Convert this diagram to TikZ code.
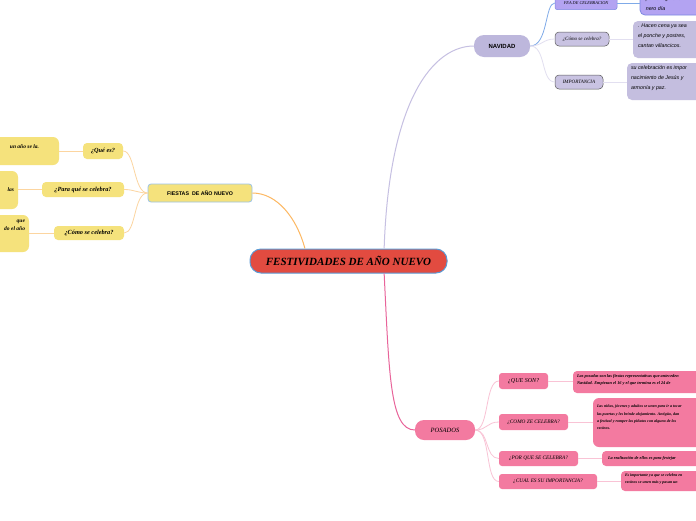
\documentclass[tikz,border=0pt]{standalone}
\usepackage{fontspec}
\setmainfont{Liberation Serif}
\newfontfamily\sansf{Liberation Sans}
\usetikzlibrary{calc}
\definecolor{mainred}{HTML}{E24B40}
\definecolor{mainblue}{HTML}{5B9BD5}
\definecolor{yel}{HTML}{F5E27C}
\definecolor{yelline}{HTML}{FCD5A0}
\definecolor{orangeline}{HTML}{FDB862}
\definecolor{lightblue}{HTML}{9DC3E6}
\definecolor{lav}{HTML}{BDB7DC}
\definecolor{lavchild}{HTML}{C9C3E2}
\definecolor{lavleaf}{HTML}{C4BEDF}
\definecolor{lavline}{HTML}{C6C0E2}
\definecolor{lavlight}{HTML}{E2DFF0}
\definecolor{purp}{HTML}{B3A3F2}
\definecolor{purpborder}{HTML}{7D88E2}
\definecolor{blueline}{HTML}{7FAAE8}
\definecolor{pink}{HTML}{F37AA0}
\definecolor{pinkline}{HTML}{E8649A}
\definecolor{pinklight}{HTML}{F9C3D5}
\tikzset{
  box/.style={rectangle, rounded corners=4pt, inner sep=0pt, text=black},
  ybox/.style={box, fill=yel},
  lbox/.style={box, fill=lavchild, draw=black!65, line width=0.5pt},
  lleaf/.style={box, fill=lavleaf, rounded corners=5pt},
  pbox/.style={box, fill=pink, rounded corners=3pt},
  txt/.style={inner sep=0pt, anchor=north west, align=left, text=black},
  ylink/.style={draw=yelline, line width=0.8pt},
  llink/.style={draw=lavlight, line width=0.8pt},
  plink/.style={draw=pinklight, line width=0.8pt},
  hand/.style={font=\fontsize{4.3}{7}\selectfont\itshape\bfseries},
  lhand/.style={font=\fontsize{5.3}{10}\sansf\itshape},
}
\begin{document}
\begin{tikzpicture}[x=1pt,y=-1pt]
\useasboundingbox (0,0) rectangle (696,520);
\clip (0,0) rectangle (696,520);
\fill[white] (0,0) rectangle (696,520);

% ---------- central ----------
\node[box, fill=mainred, draw=mainblue, line width=1pt, rounded corners=11pt,
  minimum width=197pt, minimum height=24pt,
  font=\fontsize{11}{13}\selectfont\bfseries\itshape] (main) at (348.5,261) {FESTIVIDADES DE AÑO NUEVO};

% ---------- left branch ----------
\node[box, fill=yel, draw=lightblue, line width=0.8pt, rounded corners=3pt,
  minimum width=104pt, minimum height=18pt,
  font=\fontsize{5.3}{6}\sansf\bfseries] (fi) at (200,193) {FIESTAS\ \ DE AÑO NUEVO};
\node[ybox, minimum width=40pt, minimum height=16pt, font=\fontsize{6.3}{7}\selectfont\bfseries\itshape] (qe) at (103,151) {¿Qué es?};
\node[ybox, minimum width=82pt, minimum height=15pt, font=\fontsize{6.3}{7}\selectfont\bfseries\itshape] (pq) at (83,189.5) {¿Para qué se celebra?};
\node[ybox, minimum width=70pt, minimum height=14pt, font=\fontsize{6.3}{7}\selectfont\bfseries\itshape] (cs) at (89,233) {¿Cómo se celebra?};
\node[ybox, rounded corners=6pt, minimum width=120pt, minimum height=28pt] (l1) at (-1,151) {};
\node[ybox, rounded corners=6pt, minimum width=80pt, minimum height=38pt] (l2) at (-22,190) {};
\node[ybox, rounded corners=6pt, minimum width=90pt, minimum height=37pt] (l3) at (-16,233.5) {};
\node[txt, anchor=east, font=\fontsize{5.5}{7}\selectfont\bfseries\itshape] (l1t) at ($(l1.east)+(-20,-4)$) {un año se la.};
\node[txt, anchor=east, font=\fontsize{5.5}{7}\selectfont\bfseries\itshape] (l2t) at ($(l2.east)+(-4,0)$) {las};
\node[txt, anchor=north east, align=right, font=\fontsize{5.5}{8}\selectfont\bfseries\itshape] (l3t) at ($(l3.north east)+(-4,5)$) {que\\do el año};

\draw[orangeline, line width=1pt] ($(main.north west)!0.28!(main.north east)$) .. controls +(-8,-30) and +(25,0) .. (fi.east);
\draw[ylink] (fi.west) .. controls +(-14,0) and +(12,0) .. (qe.east);
\draw[ylink] (fi.west) .. controls +(-10,0) and +(10,0) .. (pq.east);
\draw[ylink] (fi.west) .. controls +(-14,0) and +(12,0) .. (cs.east);
\draw[ylink] (qe.west) -- (qe.west -| l1.east);
\draw[ylink] (pq.west) -- (pq.west -| l2.east);
\draw[ylink] (cs.west) -- (cs.west -| l3.east);

% ---------- NAVIDAD ----------
\node[box, fill=lav, rounded corners=10pt, minimum width=56pt, minimum height=22pt,
  font=\fontsize{6}{7}\sansf\bfseries] (nav) at (502,46) {NAVIDAD};
\node[box, fill=purp, draw=purpborder, line width=0.5pt, rounded corners=2pt,
  minimum width=62pt, minimum height=13pt, font=\fontsize{4.3}{5}\selectfont\itshape] (fe) at (586,3) {FEA DE CELEBRACION};
\node[lbox, minimum width=54pt, minimum height=14pt, font=\fontsize{5}{6}\selectfont\itshape] (co) at (582,39) {¿Cómo se celebra?};
\node[lbox, minimum width=48pt, minimum height=14pt, font=\fontsize{5}{6}\selectfont\itshape] (im) at (579,82) {IMPORTANCIA};
\node[box, fill=purp, draw=purpborder, line width=0.8pt, rounded corners=5pt,
  minimum width=90pt, minimum height=35pt] (fel) at (685,-2.5) {};
\node[lleaf, minimum width=110pt, minimum height=37pt] (col) at (688,39.5) {};
\node[lleaf, minimum width=116pt, minimum height=37pt] (iml) at (685,81.5) {};
\node[txt, lhand] (felt) at ($(fel.north west)+(6,17)$) {por lo regular el\\nero día};
\node[txt, lhand] (colt) at ($(col.north west)+(5,3)$) {. Hacen cena ya sea\\el ponche y postres,\\cantan villancicos.};
\node[txt, lhand] (imlt) at ($(iml.north west)+(4,3)$) {su celebración es impor\\nacimiento de Jesús y\\armonía y paz.};

\draw[lavline, line width=1pt] ($(main.north west)!0.68!(main.north east)$) .. controls +(5,-150) and +(-40,0) .. (nav.west);
\draw[blueline, line width=0.8pt] (nav.east) .. controls +(18,0) and +(-10,0) .. (fe.west);
\draw[llink] (nav.east) .. controls +(12,0) and +(-12,0) .. (co.west);
\draw[llink] (nav.east) .. controls +(16,0) and +(-14,0) .. (im.west);
\draw[blueline, line width=0.8pt] (fe.east) -- (fe.east -| fel.west);
\draw[llink] (co.east) -- (co.east -| col.west);
\draw[llink] (im.east) -- (im.east -| iml.west);

% ---------- POSADOS ----------
\node[box, fill=pink, rounded corners=9pt, minimum width=60pt, minimum height=20pt,
  font=\fontsize{6.5}{7}\selectfont\itshape] (po) at (445,430) {POSADOS};
\node[pbox, minimum width=49pt, minimum height=16pt, font=\fontsize{6}{7}\selectfont\itshape] (qs) at (523.5,381) {¿QUE SON?};
\node[pbox, minimum width=69pt, minimum height=16pt, font=\fontsize{5.3}{7}\selectfont\itshape] (cz) at (533.5,422) {¿COMO ZE CELEBRA?};
\node[pbox, minimum width=79pt, minimum height=15pt, font=\fontsize{5.3}{7}\selectfont\itshape] (pc) at (538.5,458.5) {¿POR QUE SE CELEBRA?};
\node[pbox, minimum width=98pt, minimum height=15pt, font=\fontsize{5.3}{7}\selectfont\itshape] (cu) at (548,481.5) {¿CUAL ES SU IMPORTANCIA?};
\node[pbox, rounded corners=4pt, minimum width=180pt, minimum height=22pt] (qsl) at (663,382) {};
\node[pbox, rounded corners=6pt, minimum width=160pt, minimum height=49pt] (czl) at (673,422.5) {};
\node[pbox, rounded corners=4pt, minimum width=160pt, minimum height=15pt] (pcl) at (682,458.5) {};
\node[pbox, rounded corners=4pt, minimum width=150pt, minimum height=20pt] (cul) at (696,481) {};
\node[txt, hand] (qslt) at ($(qsl.north west)+(4,3)$) {Las posadas son las fiestas representativas que anteceden\\Navidad. Empiezan el 16 y el que termina es el 24 de};
\node[txt, hand, font=\fontsize{4}{7.3}\selectfont\itshape\bfseries] (czlt) at ($(czl.north west)+(4,7)$) {Las niñas, jóvenes y adultos se unen para ir a tocar\\las puertas y les brinde alojamiento. Antigüo, dan\\a festival y romper las piñatas con alguno de los\\vecinos.};
\node[txt, hand, anchor=west] (pclt) at ($(pcl.west)+(6,0)$) {La realización de ellos es para festejar};
\node[txt, hand, font=\fontsize{4}{7}\selectfont\itshape\bfseries] (cult) at ($(cul.north west)+(4,3)$) {Es importante ya que se celebra en\\vecinos se unen más y pasan un};

\draw[pinkline, line width=1pt] ($(main.south west)!0.68!(main.south east)$) .. controls +(5,100) and +(-25,0) .. (po.west);
\draw[plink] (po.east) .. controls +(14,0) and +(-14,0) .. (qs.west);
\draw[plink] (po.east) .. controls +(12,0) and +(-12,0) .. (cz.west);
\draw[plink] (po.east) .. controls +(14,0) and +(-14,0) .. (pc.west);
\draw[plink] (po.east) .. controls +(16,0) and +(-14,0) .. (cu.west);
\draw[plink] (qs.east) -- (qs.east -| qsl.west);
\draw[plink] (cz.east) -- (cz.east -| czl.west);
\draw[plink] (pc.east) -- (pc.east -| pcl.west);
\draw[plink] (cu.east) -- (cu.east -| cul.west);
\end{tikzpicture}
\end{document}
